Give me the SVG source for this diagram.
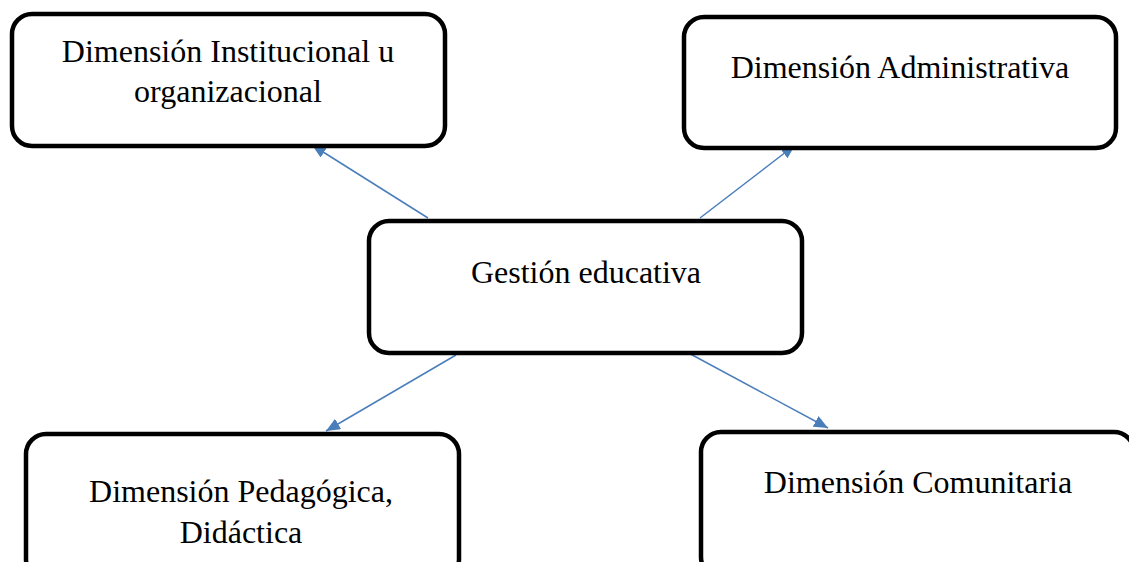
<svg xmlns="http://www.w3.org/2000/svg" width="1129" height="562" viewBox="0 0 1129 562">
<style>
.box{fill:#fff;stroke:#000;stroke-width:4.5}
.t{font-family:"Liberation Serif","Times New Roman",serif;font-size:32px;fill:#000;text-anchor:middle}
.c{stroke:#4a7ebb;stroke-width:1.5;fill:none;marker-end:url(#ah)}
</style>
<defs>
<marker id="ah" viewBox="0 0 14 12" refX="14" refY="6" markerWidth="14" markerHeight="12" markerUnits="userSpaceOnUse" orient="auto">
<path d="M0,0 L14,6 L0,12 Z" fill="#4a7ebb"/>
</marker>
</defs>
<rect width="1129" height="562" fill="#fff"/>
<g id="connectors">
<line class="c" x1="428" y1="218" x2="312" y2="145"/>
<line class="c" x1="700" y1="218" x2="795" y2="145"/>
<line class="c" x1="456" y1="355" x2="326" y2="431"/>
<line class="c" x1="683" y1="350" x2="828" y2="428"/>
</g>
<g id="n1">
<rect class="box" x="12" y="14" width="433" height="132" rx="20"/>
<text class="t" x="228" y="62">Dimensión Institucional u</text>
<text class="t" x="228" y="102">organizacional</text>
</g>
<g id="n2">
<rect class="box" x="684" y="17" width="432" height="131" rx="20"/>
<text class="t" x="900" y="78">Dimensión Administrativa</text>
</g>
<g id="n3">
<rect class="box" x="369" y="221" width="433" height="132" rx="20"/>
<text class="t" x="586" y="283">Gestión educativa</text>
</g>
<g id="n4">
<rect class="box" x="26" y="434" width="433" height="145" rx="20"/>
<text class="t" x="241" y="502">Dimensión Pedagógica,</text>
<text class="t" x="241" y="543">Didáctica</text>
</g>
<g id="n5">
<rect class="box" x="701" y="432" width="433" height="145" rx="20"/>
<text class="t" x="918" y="493">Dimensión Comunitaria</text>
</g>
</svg>
